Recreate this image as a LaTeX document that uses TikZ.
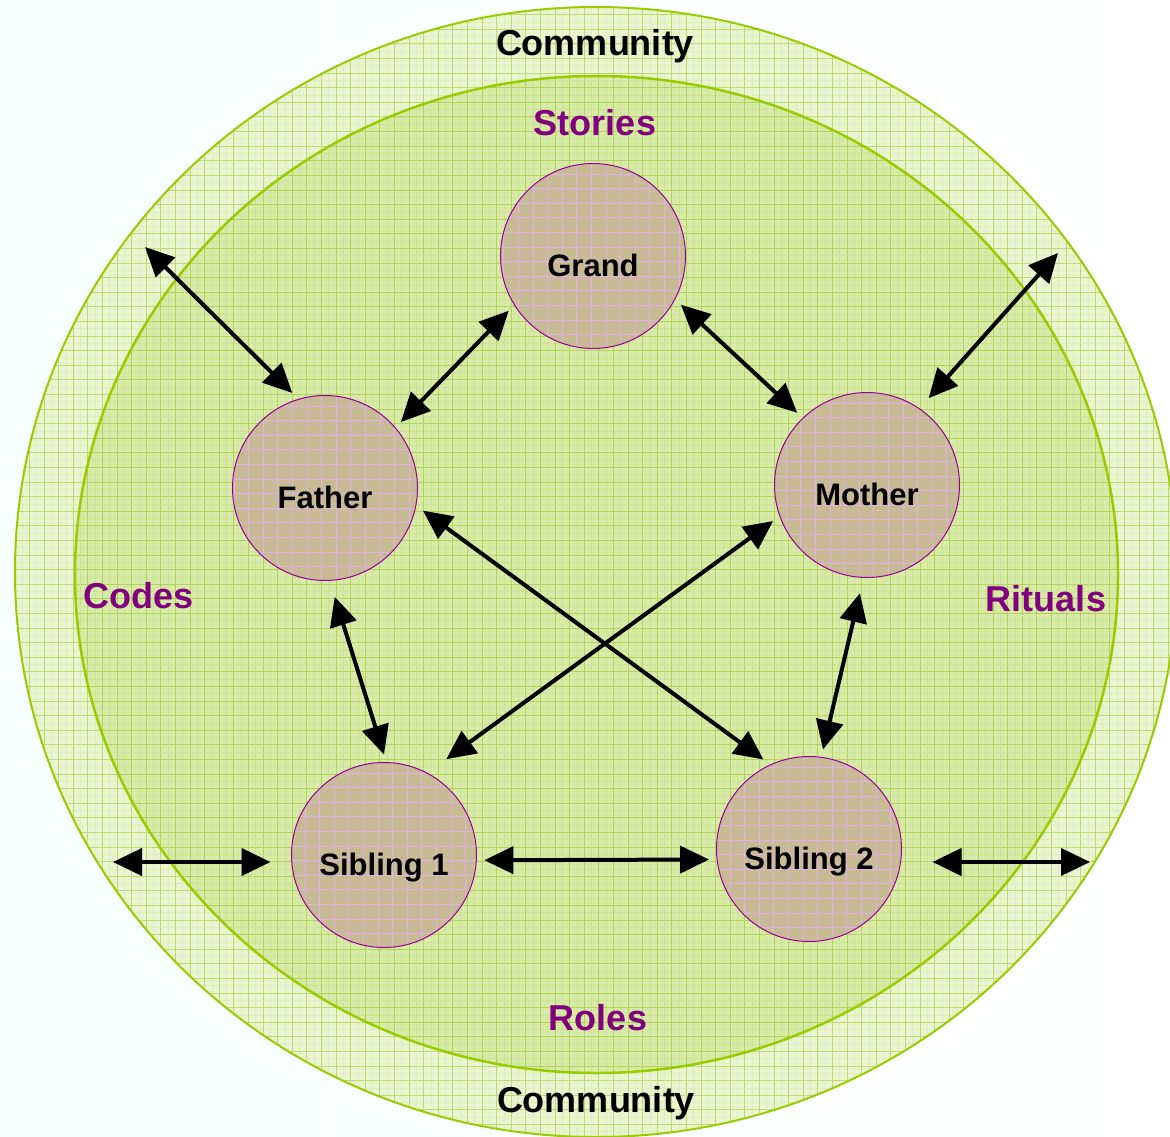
\documentclass[tikz,border=0pt]{standalone}
\usepackage{fontspec}
\setmainfont{Liberation Sans}
\usetikzlibrary{positioning,arrows.meta}

\definecolor{ringline}{HTML}{99CC00}
\definecolor{ringfill}{HTML}{EAF4D0}
\definecolor{corefill}{HTML}{D4E9A0}
\definecolor{gridgreen}{HTML}{9CC82C}
\definecolor{personfill}{HTML}{C9BA96}
\definecolor{personline}{HTML}{990099}
\definecolor{valuetext}{HTML}{800080}

\begin{document}
\begin{tikzpicture}[x=1pt, y=-1pt, line join=round,
  person/.style = {draw=personline, line width=1pt, circle, fill=personfill, minimum size=185pt,
    inner sep=0pt, outer sep=8pt, text height=40pt, text depth=0pt,
    font=\fontsize{31}{31}\selectfont\bfseries,
    path picture={\draw[personline!30, line width=0.5pt, step=14.6pt]
      (path picture bounding box.south west) grid (path picture bounding box.north east);}},
  ringlabel/.style = {font=\fontsize{36}{36}\selectfont\bfseries},
  valuelabel/.style = {font=\fontsize{36}{36}\selectfont\bfseries, text=valuetext},
  minorgrid/.style = {gridgreen, opacity=0.12, line width=0.4pt, step=7.3pt},
  majorgrid/.style = {gridgreen, opacity=0.5, line width=0.6pt, step=14.6pt},
  link/.style = {{Triangle[length=29pt,width=27pt]}-{Triangle[length=29pt,width=27pt]}, line width=4pt}]

% page and background
\useasboundingbox (0,0) rectangle (1170,1137);
\clip (0,0) rectangle (1170,1137);
\fill[left color=black!4!cyan!3, right color=white] (0,0) rectangle (1170,1137);

% community ring
\fill[ringfill] (596,572) ellipse [x radius=581pt, y radius=565pt];
\begin{scope}
  \clip (596,572) ellipse [x radius=581pt, y radius=565pt];
  \draw[minorgrid] (0,1137) grid (1170,0);
  \draw[majorgrid] (0,1137) grid (1170,0);
\end{scope}
\draw[ringline, line width=2pt] (596,572) ellipse [x radius=581pt, y radius=565pt];

% family core
\fill[corefill, opacity=0.85] (596.5,574.5) ellipse [x radius=521.5pt, y radius=498.5pt];
\begin{scope}
  \clip (596.5,574.5) ellipse [x radius=521.5pt, y radius=498.5pt];
  \draw[minorgrid] (0,1137) grid (1170,0);
  \draw[majorgrid] (0,1137) grid (1170,0);
\end{scope}
\draw[ringline, line width=2.5pt] (596.5,574.5) ellipse [x radius=521.5pt, y radius=498.5pt];

% ring texts
\node[ringlabel] (comtop) at (595,46) {Community};
\node[ringlabel] (combot) at (596,1103) {Community};
\node[valuelabel] (stories) at (595,123) {Stories};
\node[valuelabel] (codes) at (139,596) {Codes};
\node[valuelabel] (rituals) at (1046,599) {Rituals};
\node[valuelabel] (roles) at (598,1018) {Roles};

% family members
\node[person] (gr) at (593,256) {Grand};
\node[person] (fa) at (325,488) {Father};
\node[person] (mo) at (867,485) {Mother};
\node[person] (s1) at (384,855) {Sibling 1};
\node[person] (s2) at (809,849) {Sibling 2};

% free ends out in the community
\coordinate (outnw) at (145,247);
\coordinate (outne) at (1058,253);
\coordinate (outw) at (113,862);
\coordinate (oute) at (1090,862);

\draw[link] (outnw) -- (fa.109);
\draw[link] (fa.41) -- (gr.213);
\draw[link] (gr.331) -- (mo.134);
\draw[link, shorten <=6pt] (mo.55) -- (outne);
\draw[link] (fa.347) -- (s2.117);
\draw[link, shorten >=15pt] (mo.201) -- (s1.60);
\draw[link, shorten <=9pt] (fa.274) -- (s1.90);
\draw[link, shorten <=8pt] (mo.267) -- (s2.82);
\draw[link, shorten >=13pt] (outw) -- (outw -| s1.west);
\draw[link] (s1.357) -- (s2.186);
\draw[link, shorten <=23pt] (oute -| s2.east) -- (oute);
\end{tikzpicture}
\end{document}
